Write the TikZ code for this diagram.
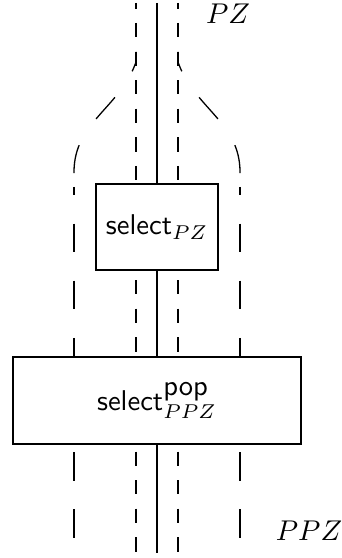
\documentclass[tikz,border=0pt]{standalone}
\begin{document}
\begin{tikzpicture}[x=0.35pt,y=-0.35pt,
  box/.style={draw, line width=0.4pt, fill=white, inner sep=0pt},
  innerwire/.style={line width=0.4pt, dash pattern=on 5pt off 5pt, dash phase=3pt},
  outerwire/.style={line width=0.4pt, dash pattern=on 10pt off 10pt},
  curvewire/.style={line width=0.45pt, dash pattern=on 10pt off 11pt, dash phase=3pt},
  wire/.style={line width=0.7pt},
  lab/.style={inner sep=0pt}]
\useasboundingbox (0,0) rectangle (341,558);
% dashed strands (behind the boxes)
\draw[innerwire] (136,3) -- (136,553);
\draw[innerwire] (178,3) -- (178,553);
\draw[curvewire] (136,52) -- (136,62) .. controls (120,108) and (74,122) .. (74,172) -- (74,180);
\draw[curvewire] (178,52) -- (178,62) .. controls (194,108) and (240,122) .. (240,172) -- (240,180);
\draw[outerwire, dash phase=7.2pt] (74,187) -- (74,553);
\draw[outerwire, dash phase=7.2pt] (240,187) -- (240,553);
% boxes
\node[box, minimum width=42.7pt, minimum height=30.1pt] (s1) at (157,227) {\textsf{select}$_{PZ}$};
\node[box, minimum width=100.8pt, minimum height=30.45pt] (s2) at (157,400.5) {\textsf{select}$^{\textsf{pop}}_{PPZ}$};
% solid wire
\coordinate (top) at (157,3);
\coordinate (bot) at (157,553);
\draw[wire] (top) -- (s1.north);
\draw[wire] (s1.south) -- (s2.north);
\draw[wire] (s2.south) -- (bot);
% labels
\node[lab] (lpz) at (228,14) {$PZ$};
\node[lab] (lppz) at (309,531) {$PPZ$};
\end{tikzpicture}
\end{document}
